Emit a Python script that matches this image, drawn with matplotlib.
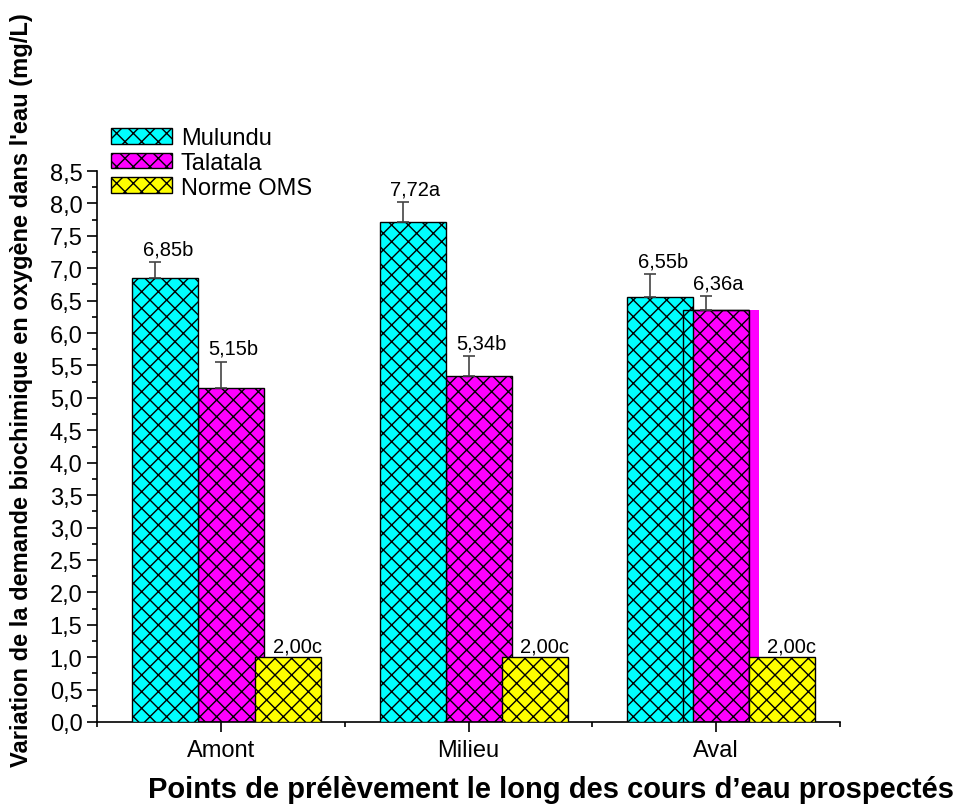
import matplotlib
matplotlib.use('Agg')
import matplotlib.pyplot as plt
from matplotlib.ticker import MultipleLocator, FixedLocator
from matplotlib.patches import Patch

plt.rcParams['font.family'] = ['Liberation Sans', 'DejaVu Sans']
plt.rcParams['hatch.linewidth'] = 1.0

sites = ['Amont', 'Milieu', 'Aval']
mulundu = [6.85, 7.72, 6.55]
mulundu_err = [0.24, 0.30, 0.36]
mulundu_lbl = ['6,85b', '7,72a', '6,55b']
talatala = [5.15, 5.34, 6.36]
talatala_err = [0.41, 0.30, 0.21]
talatala_lbl = ['5,15b', '5,34b', '6,36a']
oms = [1.0, 1.0, 1.0]
oms_lbl = ['2,00c', '2,00c', '2,00c']

# bar offsets (the original is not symmetric)
off_m = [-0.224, -0.224, -0.226]
off_t = [0.042, 0.044, 0.0]
off_o = [0.27, 0.268, 0.266]
w = 0.266
HATCH = 'xx'

fig = plt.figure(figsize=(9.6, 8.12), dpi=100)
ax = fig.add_axes([97/960, 1-723/812, 743/960, 551/812])

x = list(range(len(sites)))
xm = [i + o for i, o in zip(x, off_m)]
xt = [i + o for i, o in zip(x, off_t)]
xo = [i + o for i, o in zip(x, off_o)]

ax.bar(xt, talatala, w, color='#ff00ff', edgecolor='black', hatch=HATCH, lw=1, zorder=2)
# stray magenta strip on the right of the Aval bar
ax.bar(xt[2] + w/2 + 0.02, talatala[2], 0.04, color='#ff00ff', edgecolor='none', lw=0, zorder=2)
ax.bar(xm, mulundu, w, color='#00ffff', edgecolor='black', hatch=HATCH, lw=1, zorder=3)
ax.bar(xt[2], talatala[2], w, fill=False, edgecolor='black', lw=1, zorder=4)
ax.bar(xo, oms, w, color='#ffff00', edgecolor='black', hatch=HATCH, lw=1, zorder=5)

ax.errorbar([v - 0.04 for v in xm], mulundu, yerr=[[0]*3, mulundu_err], fmt='none',
            ecolor='#444444', elinewidth=1.2, capsize=4, capthick=1.2, zorder=6)
ax.errorbar([v - 0.04 for v in xt], talatala, yerr=[[0]*3, talatala_err], fmt='none',
            ecolor='#444444', elinewidth=1.2, capsize=4, capthick=1.2, zorder=6)

for i in x:
    ax.text(xm[i] + 0.01, mulundu[i] + mulundu_err[i] + 0.06, mulundu_lbl[i],
            ha='center', va='bottom', fontsize=14.5)
    ax.text(xt[i] + 0.01, talatala[i] + talatala_err[i] + 0.06, talatala_lbl[i],
            ha='center', va='bottom', fontsize=14.5)
    ax.text(xo[i] + 0.04, oms[i] + 0.02, oms_lbl[i], ha='center', va='bottom', fontsize=14.5)

ax.set_xlim(-0.5, 2.5)
ax.set_ylim(0, 8.5)
ax.yaxis.set_major_locator(MultipleLocator(0.5))
ax.yaxis.set_minor_locator(MultipleLocator(0.25))
ax.set_yticklabels([f'{v:.1f}'.replace('.', ',') for v in ax.get_yticks()])
ax.set_xticks(x)
ax.set_xticklabels(sites)
ax.xaxis.set_minor_locator(FixedLocator([-0.5, 0.5, 1.5, 2.5]))
ax.tick_params(axis='both', which='major', length=7, width=1.2, labelsize=17, direction='out')
ax.tick_params(axis='both', which='minor', length=3.5, width=1.2, direction='out')
ax.tick_params(axis='x', which='major', pad=5)

ax.spines['top'].set_visible(False)
ax.spines['right'].set_visible(False)
for s in ['left', 'bottom']:
    ax.spines[s].set_linewidth(1.2)

handles = [Patch(facecolor='#00ffff', edgecolor='black', hatch=HATCH, label='Mulundu'),
           Patch(facecolor='#ff00ff', edgecolor='black', hatch=HATCH, label='Talatala'),
           Patch(facecolor='#ffff00', edgecolor='black', hatch=HATCH, label='Norme OMS')]
ax.legend(handles=handles, loc='upper left', bbox_to_anchor=(111/960, 1-128/812),
          bbox_transform=fig.transFigure, frameon=False, fontsize=17,
          handlelength=2.6, handleheight=0.65, labelspacing=0.12, handletextpad=0.35,
          borderaxespad=0, borderpad=0)

fig.text(22/960, 1-390/812, "Variation de la demande biochimique en oxygène dans l'eau (mg/L)",
         rotation=90, ha='center', va='center', fontsize=17, fontweight='bold')
fig.text(551/960, 1-790/812, 'Points de prélèvement le long des cours d’eau prospectés',
         ha='center', va='center', fontsize=21, fontweight='bold')

fig.savefig('out.png', dpi=100)
